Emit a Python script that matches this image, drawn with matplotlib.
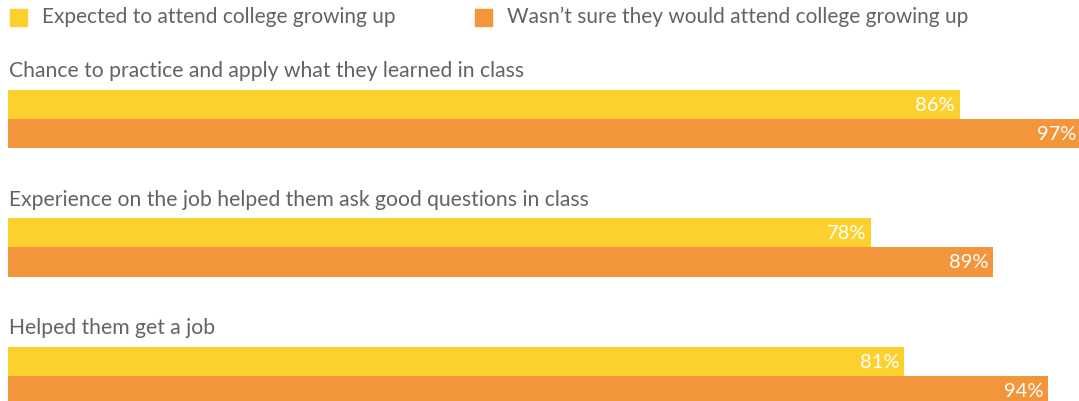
import matplotlib.pyplot as plt
from matplotlib.patches import Rectangle
import numpy as np

categories = ['Chance to practice and apply what they learned in class',
              'Experience on the job helped them ask good questions in class',
              'Helped them get a job']
expected = [86, 78, 81]
not_sure = [97, 89, 94]
series_names = ['Expected to attend college growing up',
                'Wasn\u2019t sure they would attend college growing up']

YELLOW = '#FCD12E'
ORANGE = '#F3963B'
GREY = '#636363'

plt.rcParams['font.family'] = ['Lato', 'DejaVu Sans']

fig = plt.figure(figsize=(10.79, 4.02), dpi=100)
ax = fig.add_axes([8 / 1079, 0, 1071 / 1079, 1])

y = np.arange(len(categories))
h = 0.226
ax.barh(y - h / 2, expected, height=h, color=YELLOW)
ax.barh(y + h / 2, not_sure, height=h, color=ORANGE)

for i in range(len(categories)):
    ax.text(0.1, y[i] - 0.38, categories[i], fontsize=15.2, color=GREY,
            va='center', ha='left')
    ax.text(expected[i] - 0.4, y[i] - h / 2, f'{expected[i]}%', fontsize=14.5,
            color='white', va='center', ha='right')
    ax.text(not_sure[i] - 0.4, y[i] + h / 2, f'{not_sure[i]}%', fontsize=14.5,
            color='white', va='center', ha='right')

ax.set_xlim(0, 96.8)
ax.set_ylim(2.195, -0.934)
ax.axis('off')

# legend drawn by hand
for x0, tx, col, name in [(10, 42, YELLOW, series_names[0]),
                          (475, 507, ORANGE, series_names[1])]:
    fig.patches.append(Rectangle((x0 / 1079, 1 - 27 / 402), 17 / 1079, 17 / 402,
                                 transform=fig.transFigure, color=col))
    fig.text(tx / 1079, 1 - 17 / 402, name, fontsize=15, color=GREY,
             va='center', ha='left')

plt.savefig('out.png', dpi=100)
